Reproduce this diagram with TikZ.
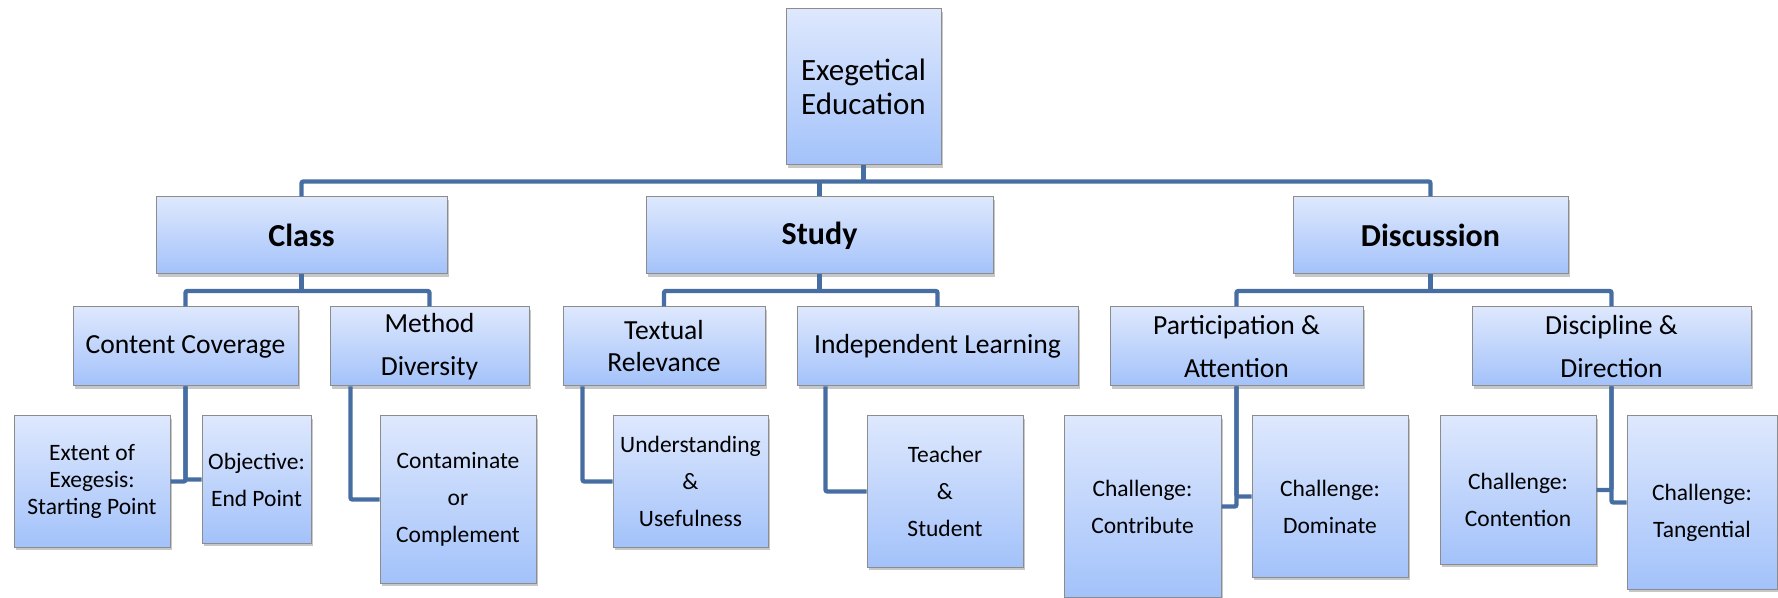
\documentclass[tikz,border=0pt]{standalone}
\usepackage{fontspec}
\setmainfont{Carlito}
\usetikzlibrary{shadows}

\definecolor{boxtop}{RGB}{222,232,253}
\definecolor{boxbot}{RGB}{163,194,250}
\definecolor{boxline}{RGB}{140,140,140}
\definecolor{linkblue}{RGB}{70,110,163}

\tikzset{
  box/.style = {rectangle, draw = boxline, line width = .5pt, top color = boxtop,
    bottom color = boxbot, align = center, inner sep = 0pt,
    drop shadow = {shadow xshift = 1pt, shadow yshift = -1.5pt, fill = black, opacity = .22}},
  boxsize/.style 2 args = {minimum width = #1*0.5pt, minimum height = #2*0.5pt},
  head/.style = {box, font = \fontsize{15.5}{17}\selectfont},
  topic/.style = {box, font = \fontsize{16}{19}\selectfont\bfseries},
  sub/.style = {box, font = \fontsize{13.8}{21.5}\selectfont},
  leaf/.style = {box, font = \fontsize{11.75}{18.5}\selectfont},
  link/.style = {draw = linkblue, line width = 2.2pt, rounded corners = 1pt}
}

\begin{document}
\begin{tikzpicture}[x = 0.5pt, y = -0.5pt]

\useasboundingbox (0, 0) rectangle (1778, 598);

% top
\node[head, boxsize = {155}{156}] (root) at (863.5, 87) {Exegetical\\Education};

% first level
\node[topic, boxsize = {291}{77}] (class) at (301.5, 235.5) {Class};
\node[topic, boxsize = {347}{77}] (study) at (819.5, 235.5) {Study};
\node[topic, boxsize = {275}{77}] (disc) at (1430.5, 235.5) {Discussion};

% second level
\node[sub, boxsize = {225}{79}] (cover) at (185.5, 346.5) {Content Coverage};
\node[sub, boxsize = {199}{79}] (method) at (429.5, 346.5) {Method\\Diversity};
\node[sub, boxsize = {202}{79}, font = \fontsize{13.8}{16}\selectfont] (textual) at (664, 346.5) {Textual\\Relevance};
\node[sub, boxsize = {281}{79}] (indep) at (937.5, 346.5) {Independent Learning};
\node[sub, boxsize = {253}{79}] (partic) at (1236.5, 346.5) {Participation \&\\Attention};
\node[sub, boxsize = {279}{79}] (discip) at (1611.5, 346.5) {Discipline \&\\Direction};

% third level
\node[leaf, boxsize = {156}{131}, font = \fontsize{11.75}{13.5}\selectfont] (extent) at (92, 481.5) {Extent of\\Exegesis:\\Starting Point};
\node[leaf, boxsize = {109}{127}] (objective) at (256.5, 479.5) {Objective:\\End Point};
\node[leaf, boxsize = {156}{167}] (contam) at (458, 499.5) {Contaminate\\or\\Complement};
\node[leaf, boxsize = {155}{131}] (underst) at (690.5, 481.5) {Understanding\\\&\\Usefulness};
\node[leaf, boxsize = {156}{151}] (teacher) at (945, 491.5) {Teacher\\\&\\Student};
\node[leaf, boxsize = {157}{181}] (contrib) at (1142.5, 506.5) {Challenge:\\Contribute};
\node[leaf, boxsize = {156}{161}] (domin) at (1330, 496.5) {\mbox{}\\Challenge:\\Dominate};
\node[leaf, boxsize = {156}{148}] (content) at (1518, 490) {\mbox{}\\Challenge:\\Contention};
\node[leaf, boxsize = {150}{173}] (tangent) at (1702, 502.5) {\mbox{}\\Challenge:\\Tangential};

% bus lines
\coordinate (bus) at (0, 181.5);
\coordinate (subbus) at (0, 291);

\draw[link] (root.south) -- (root.south |- bus);
\draw[link] (class.north) -- (class.north |- bus) -- (disc.north |- bus) -- (disc.north);
\draw[link] (study.north) -- (study.north |- bus);

\draw[link] (class.south) -- (class.south |- subbus);
\draw[link] (cover.north) -- (cover.north |- subbus) -- (method.north |- subbus) -- (method.north);
\draw[link] (study.south) -- (study.south |- subbus);
\draw[link] (textual.north) -- (textual.north |- subbus) -- (indep.north |- subbus) -- (indep.north);
\draw[link] (disc.south) -- (disc.south |- subbus);
\draw[link] (partic.north) -- (partic.north |- subbus) -- (discip.north |- subbus) -- (discip.north);

% down to the leaves
\draw[link] (cover.south) |- (extent.east);
\draw[link] (cover.south) |- (objective.west);
\draw[link] ([xshift = 10.5pt]method.south west) |- (contam.west);
\draw[link] ([xshift = 10pt]textual.south west) |- (underst.west);
\draw[link] ([xshift = 14.5pt]indep.south west) |- (teacher.west);
\draw[link] (partic.south) |- (contrib.east);
\draw[link] (partic.south) |- (domin.west);
\draw[link] (discip.south) |- (content.east);
\draw[link] (discip.south) |- (tangent.west);

\end{tikzpicture}
\end{document}
